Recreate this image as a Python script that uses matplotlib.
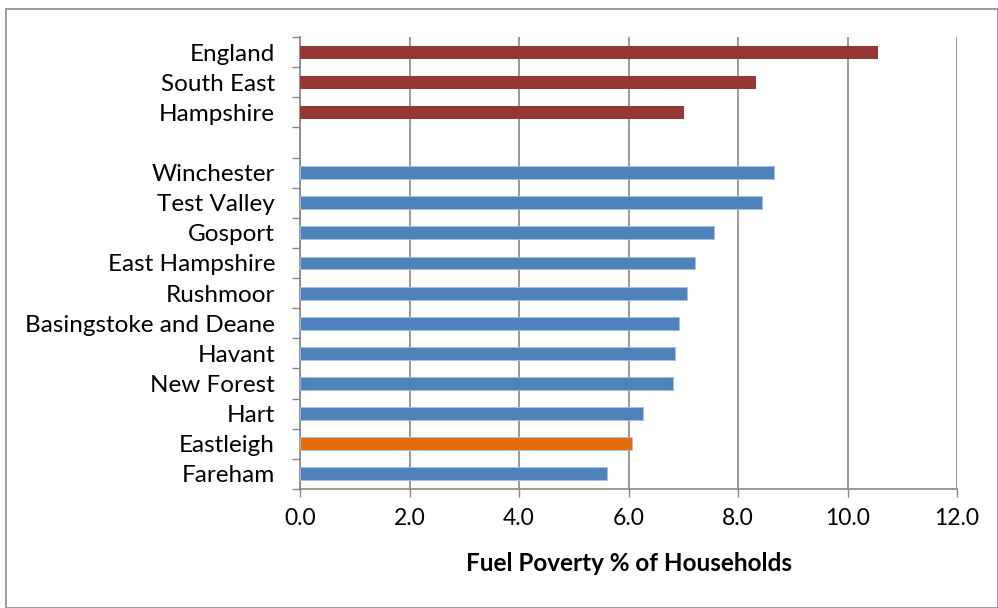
import matplotlib.pyplot as plt
import matplotlib.patches as mpatches

# =============== Data ===============
REGIONS      = ["England", "South East", "Hampshire"]
REGION_VALS  = [10.56, 8.32, 7.02]
DISTRICTS    = ["Winchester", "Test Valley", "Gosport", "East Hampshire", "Rushmoor",
                "Basingstoke and Deane", "Havant", "New Forest", "Hart", "Eastleigh", "Fareham"]
DISTRICT_VALS = [8.65, 8.43, 7.56, 7.21, 7.06, 6.92, 6.85, 6.81, 6.27, 6.07, 5.60]
HIGHLIGHT    = "Eastleigh"
X_TICKS      = [0, 2, 4, 6, 8, 10, 12]
X_LABEL      = "Fuel Poverty % of Households"

# Colors
RED    = "#953735"
BLUE   = "#4F81BD"
ORANGE = "#E46C0A"
GRID   = "#878787"

plt.rcParams["font.family"] = ["Lato", "DejaVu Sans"]

fig = plt.figure(figsize=(9.98, 6.08), dpi=100)
ax = fig.add_axes([300 / 998, 1 - 489 / 608, 657 / 998, 452 / 608])

# slots top-to-bottom: regions, blank gap, districts
labels = REGIONS + [""] + DISTRICTS
n = len(labels)
pos_regions = list(range(len(REGIONS)))
pos_districts = [len(REGIONS) + 1 + i for i in range(len(DISTRICTS))]

bar_h = 0.43
ax.barh(pos_regions, REGION_VALS, height=bar_h, color=RED, zorder=3)
dist_colors = [ORANGE if d == HIGHLIGHT else BLUE for d in DISTRICTS]
ax.barh(pos_districts, DISTRICT_VALS, height=bar_h, color=dist_colors,
        edgecolor="#A7C0E0", linewidth=0.6, zorder=3)

ax.set_ylim(n - 0.5, -0.5)
ax.set_xlim(X_TICKS[0], X_TICKS[-1])

# y ticks at slot boundaries, labels at centres
ax.set_yticks([i - 0.5 for i in range(n + 1)])
ax.set_yticklabels([])
ax.set_yticks(range(n), minor=True)
ax.set_yticklabels(labels, minor=True, fontsize=17.5)
ax.tick_params(axis="y", which="major", length=6, width=1, color=GRID, direction="out")
ax.tick_params(axis="y", which="minor", length=0, pad=18)

ax.set_xticks(X_TICKS)
ax.set_xticklabels([f"{v:.1f}" for v in X_TICKS], fontsize=16.5)
ax.tick_params(axis="x", length=6, width=1, color=GRID, direction="out", pad=8)
ax.set_xlabel(X_LABEL, fontsize=17.5, fontweight="bold", labelpad=16)

ax.grid(axis="x", color=GRID, linewidth=1.2, zorder=0)
for s in ["top", "right"]:
    ax.spines[s].set_visible(False)
for s in ["left", "bottom"]:
    ax.spines[s].set_color(GRID)
    ax.spines[s].set_linewidth(1.2)

# outer chart border
fig.patches.append(mpatches.Rectangle((6 / 998, 0), 1 - 6 / 998, 1 - 9 / 608,
                                      transform=fig.transFigure, fill=False,
                                      edgecolor="#8C8C8C", linewidth=1.2))

fig.savefig("out.png", dpi=100)
